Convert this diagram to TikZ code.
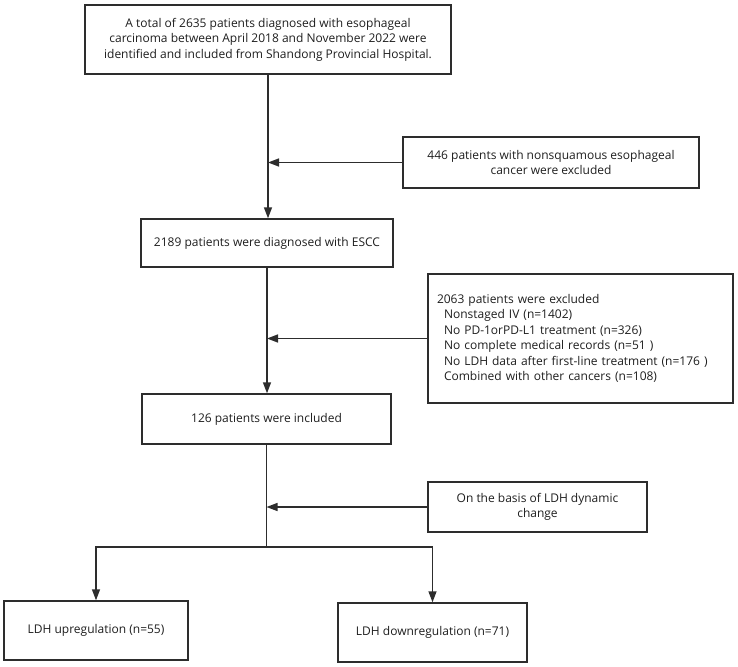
\documentclass[tikz,border=0pt]{standalone}
\usepackage{fontspec}
\setmainfont{Open Sans}
\usepackage{tikz}
\usetikzlibrary{arrows.meta,positioning,calc}
\definecolor{lineGray}{RGB}{45,45,45}
\definecolor{textGray}{RGB}{30,30,30}

\begin{document}
\begin{tikzpicture}[x=1pt, y=-1pt, font=\fontsize{12}{15.5}\selectfont, text=textGray,
      box/.style={draw=lineGray, line width=1.4pt, inner sep=5pt, align=center},
      listbox/.style={draw=lineGray, line width=1.4pt, inner sep=9pt, align=left},
      edge/.style={draw=lineGray, line width=1.4pt, -{Triangle[length=11pt,width=8pt]}},
      link/.style={draw=lineGray, line width=1.4pt}]
    \useasboundingbox (0,0) rectangle (738,666);
    \node[box, minimum width=366pt, minimum height=69pt] (total)
      at (268,39.5) {A total of 2635 patients diagnosed with esophageal\\
      carcinoma between April 2018 and November 2022 were\\
      identified and included from Shandong Provincial Hospital.};
    \node[box, minimum width=296pt, minimum height=51pt] (nonsq)
      at (551,162.5) {446 patients with nonsquamous esophageal\\cancer were excluded};
    \node[box, minimum width=252pt, minimum height=48pt] (escc)
      at (267,243) {2189 patients were diagnosed with ESCC};
    \node[listbox, text width=287pt, minimum height=129pt] (excl)
      at (580.5,338.5) {2063 patients were excluded\\
      \hspace*{7pt}Nonstaged IV (n=1402)\\
      \hspace*{7pt}No PD-1orPD-L1 treatment (n=326)\\
      \hspace*{7pt}No complete medical records (n=51 )\\
      \hspace*{7pt}No LDH data after first-line treatment (n=176 )\\
      \hspace*{7pt}Combined with other cancers (n=108)};
    \node[box, minimum width=249pt, minimum height=50pt] (incl)
      at (266.5,419) {126 patients were included};
    \node[box, minimum width=219pt, minimum height=50pt] (basis)
      at (537.5,507) {On the basis of LDH dynamic\\change};
    \node[box, minimum width=184pt, minimum height=59pt] (up)
      at (96,630.5) {LDH upregulation (n=55)};
    \node[box, minimum width=189pt, minimum height=59pt] (down)
      at (432.5,632.5) {LDH downregulation (n=71)};
    % junctions on the main line
    \coordinate (j1) at (total.south |- nonsq.west);
    \coordinate (j2) at (escc.south |- excl.west);
    \coordinate (j3) at (incl.south |- basis.west);
    \coordinate (split) at (266.5,547);
    \draw[edge] (total.south) -- (total.south |- escc.north);
    \draw[edge] (nonsq.west) -- (j1);
    \draw[edge] (escc.south) -- (escc.south |- incl.north);
    \draw[edge] (excl.west) -- (j2);
    \draw[link] (incl.south) -- (split);
    \draw[edge] (basis.west) -- (j3);
    \draw[edge] (split) -| (up.north);
    \draw[edge] (split) -| (down.north);
  \end{tikzpicture}
\end{document}
